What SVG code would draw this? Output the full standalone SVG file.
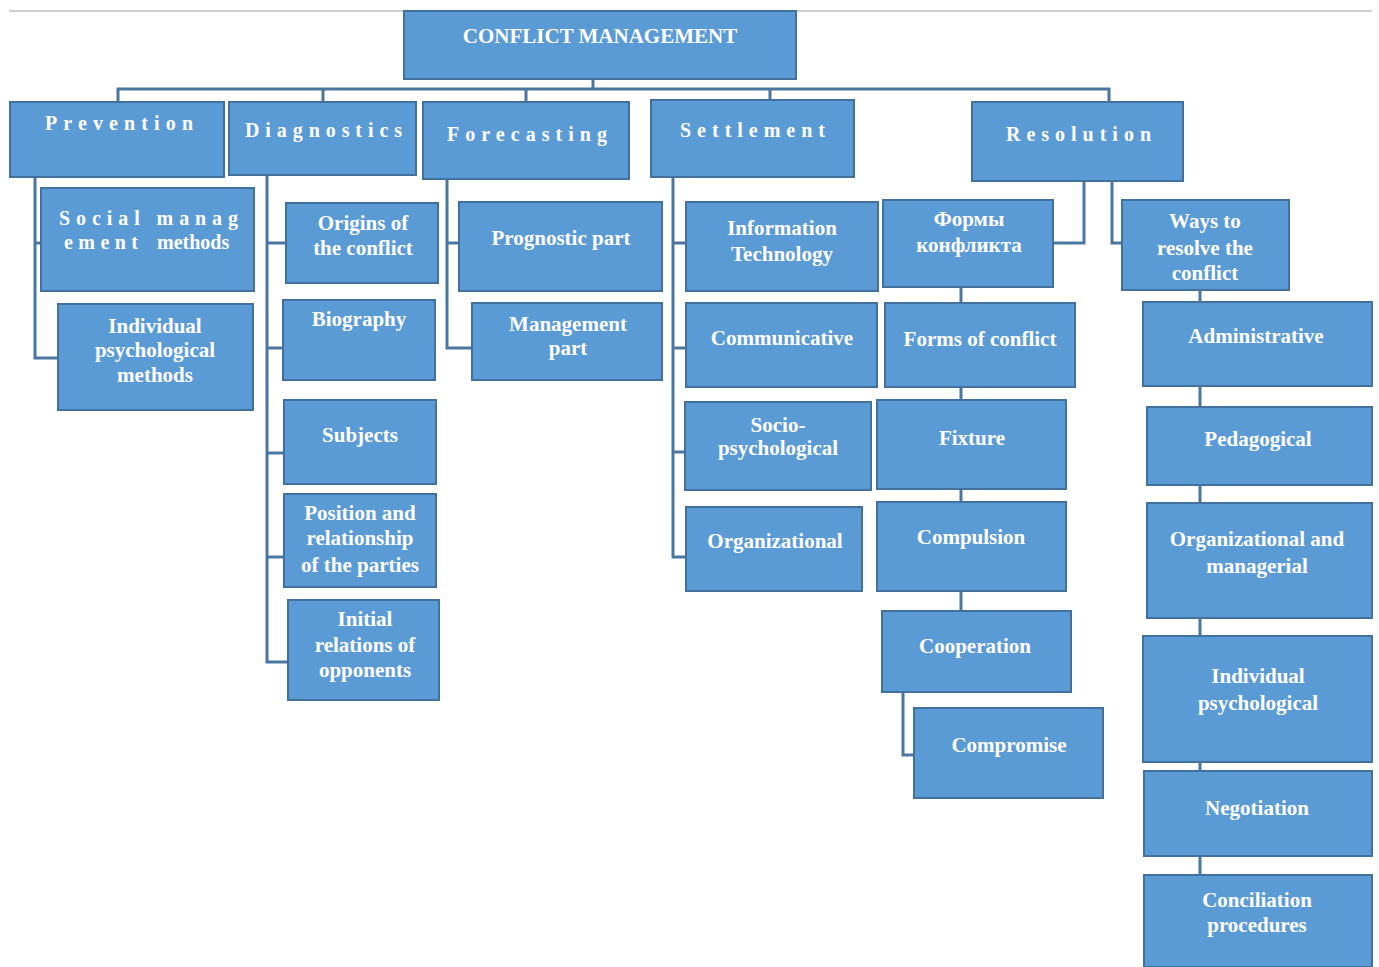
<svg xmlns="http://www.w3.org/2000/svg" width="1379" height="967" viewBox="0 0 1379 967">
<style>
.box{fill:#5B9BD5;stroke:#41719C;stroke-width:2}
.t{font-family:"Liberation Serif","Times New Roman",serif;font-weight:bold;font-size:21px;fill:#ffffff;text-anchor:middle}
.h{font-family:"Liberation Serif","Times New Roman",serif;font-weight:bold;font-size:20px;fill:#ffffff}
.c{fill:none;stroke:#4A76A0;stroke-width:3}
</style>
<rect width="1379" height="967" fill="#ffffff"/>
<line x1="9" y1="11" x2="1372" y2="11" stroke="#d0d0d0" stroke-width="2"/>
<g id="connectors">
<path class="c" d="M593 79 V89 M118 102 V89 H1109 V102 M323 89 V102 M526 89 V102 M770 89 V100"/>
<path class="c" d="M35 177 V358 H58 M35 243 H41"/>
<path class="c" d="M267 175 V662 H288 M267 243 H286 M267 348 H283 M267 453 H284 M267 557 H284"/>
<path class="c" d="M447 179 V348 H472 M447 243 H459"/>
<path class="c" d="M673 177 V557 H686 M673 243 H686 M673 348 H686 M673 452 H685"/>
<path class="c" d="M1084 181 V243 H1053 M1112 181 V243 H1122"/>
<path class="c" d="M961 287 V611 M903 692 V755 H914"/>
<path class="c" d="M1200 290 V875"/>
</g>
<g id="root"><rect class="box" x="404" y="11" width="392" height="68"/><text class="t" x="600" y="43">CONFLICT MANAGEMENT</text></g>
<g id="prevention"><rect class="box" x="10" y="102" width="214" height="75"/><text class="h" x="45" y="130" textLength="148" lengthAdjust="spacing">Prevention</text></g>
<g id="diagnostics"><rect class="box" x="229" y="102" width="187" height="73"/><text class="h" x="245" y="137" textLength="157" lengthAdjust="spacing">Diagnostics</text></g>
<g id="forecasting"><rect class="box" x="423" y="102" width="206" height="77"/><text class="h" x="447" y="141" textLength="160" lengthAdjust="spacing">Forecasting</text></g>
<g id="settlement"><rect class="box" x="651" y="100" width="203" height="77"/><text class="h" x="680" y="137" textLength="145" lengthAdjust="spacing">Settlement</text></g>
<g id="resolution"><rect class="box" x="972" y="102" width="211" height="79"/><text class="h" x="1006" y="141" textLength="145" lengthAdjust="spacing">Resolution</text></g>
<g id="social"><rect class="box" x="41" y="188" width="213" height="103"/><text class="h" x="59" y="225" textLength="179" lengthAdjust="spacing">Social manag</text><text class="h" x="64" y="249" textLength="74" lengthAdjust="spacing">ement</text><text class="h" x="157" y="249" font-size="21">methods</text></g>
<g id="indpsy"><rect class="box" x="58" y="304" width="195" height="106"/><text class="t" x="155" y="333">Individual</text><text class="t" x="155" y="357">psychological</text><text class="t" x="155" y="382">methods</text></g>
<g id="origins"><rect class="box" x="286" y="203" width="152" height="80"/><text class="t" x="363" y="230">Origins of</text><text class="t" x="363" y="255">the conflict</text></g>
<g id="biography"><rect class="box" x="283" y="300" width="152" height="80"/><text class="t" x="359" y="326">Biography</text></g>
<g id="subjects"><rect class="box" x="284" y="400" width="152" height="84"/><text class="t" x="360" y="442">Subjects</text></g>
<g id="position"><rect class="box" x="284" y="494" width="152" height="93"/><text class="t" x="360" y="520">Position and</text><text class="t" x="360" y="545">relationship</text><text class="t" x="360" y="572">of the parties</text></g>
<g id="initial"><rect class="box" x="288" y="600" width="151" height="100"/><text class="t" x="365" y="626">Initial</text><text class="t" x="365" y="652">relations of</text><text class="t" x="365" y="677">opponents</text></g>
<g id="prognostic"><rect class="box" x="459" y="202" width="203" height="89"/><text class="t" x="561" y="245">Prognostic part</text></g>
<g id="management"><rect class="box" x="472" y="303" width="190" height="77"/><text class="t" x="568" y="331">Management</text><text class="t" x="568" y="355">part</text></g>
<g id="infotech"><rect class="box" x="686" y="202" width="192" height="89"/><text class="t" x="782" y="235">Information</text><text class="t" x="782" y="261">Technology</text></g>
<g id="communicative"><rect class="box" x="686" y="303" width="191" height="84"/><text class="t" x="782" y="345">Communicative</text></g>
<g id="sociopsy"><rect class="box" x="685" y="402" width="186" height="88"/><text class="t" x="778" y="432">Socio-</text><text class="t" x="778" y="455">psychological</text></g>
<g id="organizational"><rect class="box" x="686" y="507" width="176" height="84"/><text class="t" x="775" y="548">Organizational</text></g>
<g id="formy"><rect class="box" x="883" y="200" width="170" height="87"/><text class="t" x="969" y="226">Формы</text><text class="t" x="969" y="252">конфликта</text></g>
<g id="forms"><rect class="box" x="885" y="303" width="190" height="84"/><text class="t" x="980" y="346">Forms of conflict</text></g>
<g id="fixture"><rect class="box" x="877" y="400" width="189" height="89"/><text class="t" x="972" y="445">Fixture</text></g>
<g id="compulsion"><rect class="box" x="877" y="502" width="189" height="89"/><text class="t" x="971" y="544">Compulsion</text></g>
<g id="cooperation"><rect class="box" x="882" y="611" width="189" height="81"/><text class="t" x="975" y="653">Cooperation</text></g>
<g id="compromise"><rect class="box" x="914" y="708" width="189" height="90"/><text class="t" x="1009" y="752">Compromise</text></g>
<g id="ways"><rect class="box" x="1122" y="200" width="167" height="90"/><text class="t" x="1205" y="228">Ways to</text><text class="t" x="1205" y="255">resolve the</text><text class="t" x="1205" y="280">conflict</text></g>
<g id="administrative"><rect class="box" x="1143" y="302" width="229" height="84"/><text class="t" x="1256" y="343">Administrative</text></g>
<g id="pedagogical"><rect class="box" x="1147" y="407" width="225" height="78"/><text class="t" x="1258" y="446">Pedagogical</text></g>
<g id="orgman"><rect class="box" x="1147" y="503" width="225" height="115"/><text class="t" x="1257" y="546">Organizational and</text><text class="t" x="1257" y="573">managerial</text></g>
<g id="indpsy2"><rect class="box" x="1143" y="636" width="229" height="126"/><text class="t" x="1258" y="683">Individual</text><text class="t" x="1258" y="710">psychological</text></g>
<g id="negotiation"><rect class="box" x="1144" y="771" width="228" height="85"/><text class="t" x="1257" y="815">Negotiation</text></g>
<g id="conciliation"><rect class="box" x="1144" y="875" width="228" height="92"/><text class="t" x="1257" y="907">Conciliation</text><text class="t" x="1257" y="932">procedures</text></g>
</svg>
